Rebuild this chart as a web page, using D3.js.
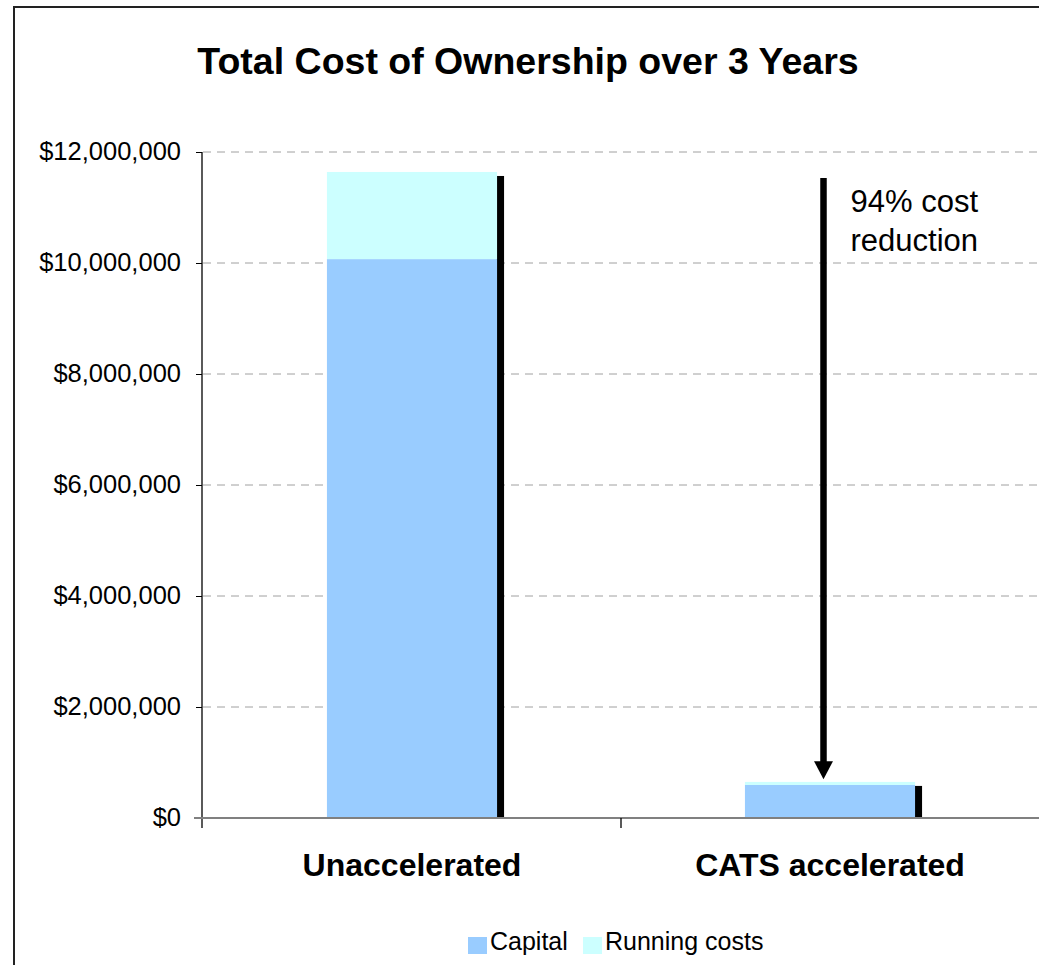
<!DOCTYPE html>
<html lang="en">
<head>
  <meta charset="UTF-8">
  <title>Total Cost of Ownership over 3 Years</title>
  <script src="https://d3js.org/d3.v7.min.js"></script>
  <style>
    body {
      margin: 0;
      background: white;
      font-family: "Liberation Sans", Arial, sans-serif;
    }
    svg { display: block; }
    .grid line { stroke: #a0a0a0; stroke-dasharray: 8,6; }
    .tick-label { font-size: 25px; fill: #000; }
    .cat-label { font-size: 32px; font-weight: bold; fill: #000; }
  </style>
</head>
<body>
<script>
  const categories = ["Unaccelerated", "CATS accelerated"];
  const capital = [10070000, 595000];
  const running = [1570000, 55000];
  const yTicks = [0, 2000000, 4000000, 6000000, 8000000, 10000000, 12000000];
  const seriesNames = ["Capital", "Running costs"];
  const colors = ["#99ccff", "#ccffff"];

  const width = 1039, height = 965;
  const plot = { left: 203, right: 1039, top: 152, bottom: 818 };

  const svg = d3.select("body").append("svg")
    .attr("width", width)
    .attr("height", height);

  // outer chart frame
  svg.append("rect")
    .attr("x", 14).attr("y", 7)
    .attr("width", width + 20).attr("height", height + 20)
    .attr("fill", "white")
    .attr("stroke", "#222")
    .attr("stroke-width", 2);

  svg.append("text")
    .attr("x", 528).attr("y", 74)
    .attr("text-anchor", "middle")
    .style("font-size", "37.5px")
    .style("font-weight", "bold")
    .text("Total Cost of Ownership over 3 Years");

  const x = d3.scaleBand()
    .domain(categories)
    .range([plot.left, plot.right])
    .padding(0);

  const y = d3.scaleLinear()
    .domain([0, 12000000])
    .range([plot.bottom, plot.top]);

  // gridlines
  svg.append("g").attr("class", "grid")
    .selectAll("line")
    .data(yTicks.filter(d => d > 0))
    .enter().append("line")
    .attr("x1", plot.left).attr("x2", plot.right)
    .attr("y1", d => y(d)).attr("y2", d => y(d));

  // bars
  const barW = x.bandwidth() * 0.407;
  const data = categories.map((c, i) => ({ cat: c, capital: capital[i], running: running[i] }));
  const stacked = d3.stack().keys(["capital", "running"])(data);

  // shadow on right side of each bar
  svg.append("g").selectAll("rect")
    .data(data)
    .enter().append("rect")
    .attr("x", d => x(d.cat) + (x.bandwidth() + barW) / 2 - 0.5)
    .attr("y", d => y(d.capital + d.running) + 4)
    .attr("width", 7.5)
    .attr("height", d => y(0) - y(d.capital + d.running) - 4)
    .attr("fill", "#000");

  stacked.forEach((layer, li) => {
    svg.append("g").selectAll("rect")
      .data(layer)
      .enter().append("rect")
      .attr("x", d => x(d.data.cat) + (x.bandwidth() - barW) / 2)
      .attr("y", d => y(d[1]))
      .attr("width", barW)
      .attr("height", d => y(d[0]) - y(d[1]))
      .attr("fill", colors[li]);
  });

  // y axis
  const yAxis = svg.append("g")
    .attr("transform", `translate(${plot.left - 1},0)`)
    .call(d3.axisLeft(y).tickValues(yTicks).tickSize(6).tickPadding(15)
      .tickFormat(d => "$" + d3.format(",")(d)));
  yAxis.select(".domain").attr("stroke", "#000").attr("stroke-width", 1.3)
    .attr("d", `M0,${plot.top}V${plot.bottom + 10}`);
  yAxis.selectAll(".tick line").attr("stroke", "#000");
  yAxis.selectAll(".tick text")
    .attr("class", "tick-label")
    .style("font-size", "25.5px")
    .style("font-family", "Liberation Sans, Arial, sans-serif")
    .attr("dy", "0.3em");

  // x axis
  svg.append("line")
    .attr("x1", plot.left - 9).attr("x2", plot.right)
    .attr("y1", plot.bottom).attr("y2", plot.bottom)
    .attr("stroke", "#808080").attr("stroke-width", 2);
  svg.append("g").selectAll("line")
    .data(categories.slice(1))
    .enter().append("line")
    .attr("x1", d => x(d)).attr("x2", d => x(d))
    .attr("y1", plot.bottom).attr("y2", plot.bottom + 10)
    .attr("stroke", "#000").attr("stroke-width", 1.3);

  svg.append("g").selectAll("text")
    .data(categories)
    .enter().append("text")
    .attr("class", "cat-label")
    .attr("x", d => x(d) + x.bandwidth() / 2)
    .attr("y", 876)
    .attr("text-anchor", "middle")
    .text(d => d);

  // arrow annotation
  const ax = x(categories[1]) + x.bandwidth() / 2 - 6.5;
  const aTop = y(11530000), aTip = y(0.7e6);
  svg.append("line")
    .attr("x1", ax).attr("x2", ax)
    .attr("y1", aTop).attr("y2", aTip - 14)
    .attr("stroke", "#000").attr("stroke-width", 6.5);
  svg.append("path")
    .attr("d", `M${ax - 9.5},${aTip - 18}L${ax + 9.5},${aTip - 18}L${ax},${aTip}Z`)
    .attr("fill", "#000");
  const note = svg.append("text")
    .attr("x", ax + 27).attr("y", aTop + 34)
    .style("font-size", "31px");
  note.append("tspan").text("94% cost");
  note.append("tspan").attr("x", ax + 27).attr("dy", 39).text("reduction");

  // legend
  const leg = svg.append("g").attr("transform", "translate(468,937)");
  const legX = [0, 115];
  seriesNames.forEach((name, i) => {
    leg.append("rect")
      .attr("x", legX[i]).attr("y", 0)
      .attr("width", 19).attr("height", 17)
      .attr("fill", colors[i]);
    leg.append("text")
      .attr("x", legX[i] + 22).attr("y", 13)
      .style("font-size", "25px")
      .text(name);
  });
</script>
</body>
</html>
